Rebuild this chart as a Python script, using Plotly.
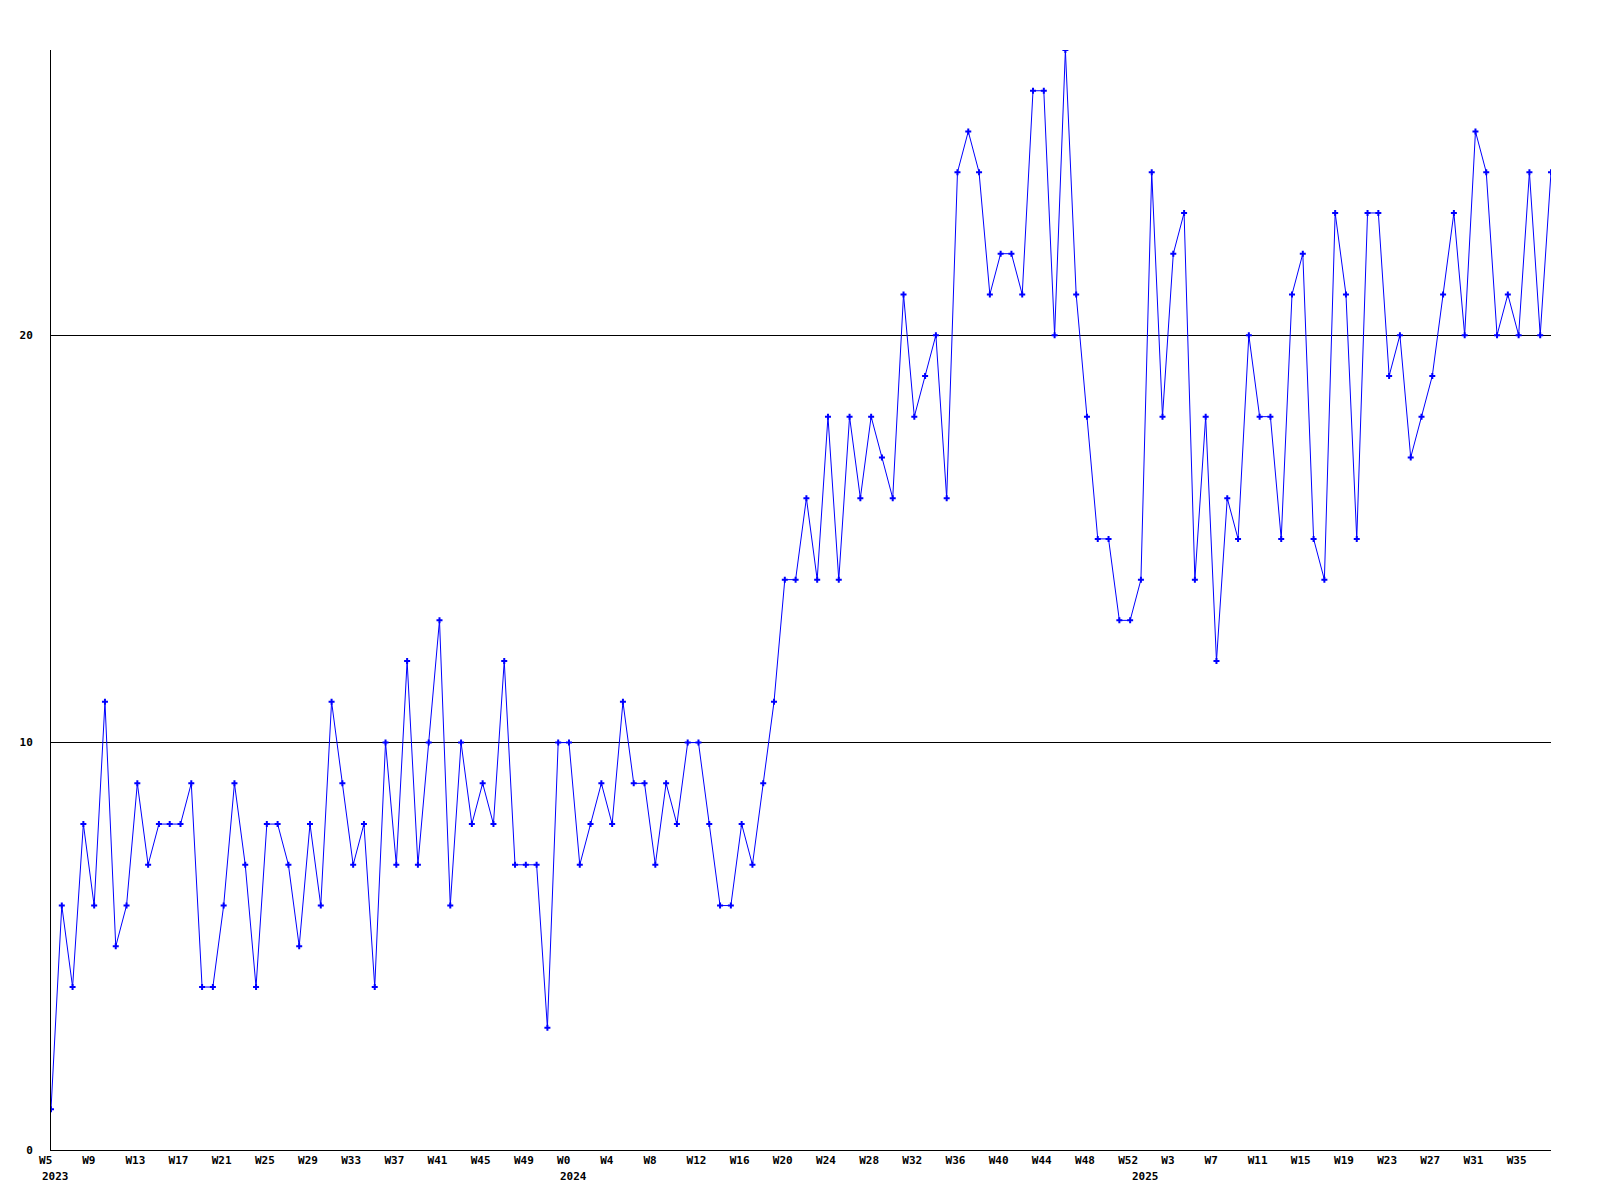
import plotly.graph_objects as go

# ---- data -------------------------------------------------------------
years = ["2023", "2024", "2025"]
weeks_2023 = list(range(5, 53))   # W5 .. W52
weeks_2024 = list(range(0, 53))   # W0 .. W52
weeks_2025 = list(range(0, 39))   # W0 .. W38

values_2023 = [1, 6, 4, 8, 6, 11, 5, 6, 9, 7, 8, 8, 8, 9, 4, 4, 6, 9, 7, 4,
               8, 8, 7, 5, 8, 6, 11, 9, 7, 8, 4, 10, 7, 12, 7, 10, 13, 6, 10, 8,
               9, 8, 12, 7, 7, 7, 3, 10]
values_2024 = [10, 7, 8, 9, 8, 11, 9, 9, 7, 9, 8, 10, 10, 8, 6, 6, 8, 7, 9, 11,
               14, 14, 16, 14, 18, 14, 18, 16, 18, 17, 16, 21, 18, 19, 20, 16, 24, 25, 24, 21,
               22, 22, 21, 26, 26, 20, 27, 21, 18, 15, 15, 13, 13]
values_2025 = [14, 24, 18, 22, 23, 14, 18, 12, 16, 15, 20, 18, 18, 15, 21, 22, 15, 14, 23, 21,
               15, 23, 23, 19, 20, 17, 18, 19, 21, 23, 20, 25, 24, 20, 21, 20, 24, 20, 24]

y_ticks = [0, 10, 20]
tick_step = 4

# ---- assemble ---------------------------------------------------------
week_nums = weeks_2023 + weeks_2024 + weeks_2025
values = values_2023 + values_2024 + values_2025
week_labels = [f"W{w}" for w in week_nums]
idx = list(range(len(values)))
year_start_idx = [0, len(weeks_2023), len(weeks_2023) + len(weeks_2024)]

NB = "\u00a0"
tickvals = idx[::tick_step]
ticktext = [week_labels[i].ljust(3, NB) for i in tickvals]

FONT = "DejaVu Sans Mono"

fig = go.Figure()
fig.add_trace(go.Scatter(
    x=idx, y=values, mode="lines+markers",
    line=dict(color="#0000ff", width=1),
    marker=dict(symbol="cross", size=5, color="#0000ff", line=dict(width=0)),
    hoverinfo="skip", showlegend=False,
))

for yi, yr in zip(year_start_idx, years):
    fig.add_annotation(
        x=yi, y=0, xref="x", yref="paper", text=yr, showarrow=False,
        xanchor="left", yanchor="top", xshift=-11, yshift=-18,
        font=dict(family=FONT, size=11, color="black", weight="bold"),
    )

fig.update_layout(
    width=1600, height=1200,
    margin=dict(l=43, r=57, t=42, b=58, autoexpand=False),
    paper_bgcolor="white", plot_bgcolor="white",
    font=dict(family=FONT, size=11, color="black", weight="bold"),
)
fig.update_xaxes(
    range=[0, len(values) - 1], tickmode="array", tickvals=tickvals, ticktext=ticktext,
    showgrid=False, zeroline=False, showline=True, linecolor="black", linewidth=1,
    ticks="", ticklabelshift=-2, ticklabelstandoff=0,
    tickfont=dict(family=FONT, size=11, color="black", weight="bold"),
)
fig.update_yaxes(
    range=[0, max(values)], tickmode="array", tickvals=y_ticks,
    showgrid=True, gridcolor="black", gridwidth=1,
    zeroline=False, showline=True, linecolor="black", linewidth=1,
    ticks="", ticklabelstandoff=15,
    tickfont=dict(family=FONT, size=11, color="black", weight="bold"),
)

fig.write_html("out.html")
